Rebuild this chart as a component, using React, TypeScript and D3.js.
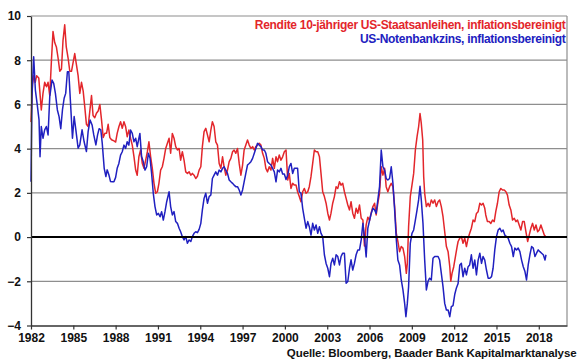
import { useRef, useEffect } from "react";
import * as d3 from "d3";

const yearTicks = [1982, 1985, 1988, 1991, 1994, 1997, 2000, 2003, 2006, 2009, 2012, 2015, 2018];
const valueTicks = [-4, -2, 0, 2, 4, 6, 8, 10];

const legendRendite = "Rendite 10-jähriger US-Staatsanleihen, inflationsbereinigt";
const legendNotenbank = "US-Notenbankzins, inflationsbereinigt";
const sourceLabel = "Quelle: Bloomberg, Baader Bank Kapitalmarktanalyse";

// [year, value] — real 10y treasury yield
const rendite: [number, number][] = [
  [1982.0, 5.2], [1982.1, 6.9], [1982.2, 7.3], [1982.3, 7.0], [1982.4, 7.3], [1982.55, 7.2],
  [1982.73, 5.75], [1982.85, 6.5], [1982.97, 7.0], [1983.1, 6.8], [1983.21, 7.0], [1983.33, 6.4],
  [1983.45, 8.0], [1983.56, 9.3], [1983.68, 8.8], [1983.8, 8.6], [1983.92, 8.1], [1984.04, 7.5],
  [1984.16, 7.6], [1984.27, 8.9], [1984.39, 9.6], [1984.5, 8.6], [1984.63, 8.1], [1984.75, 7.5],
  [1984.87, 7.5], [1985.1, 8.3], [1985.22, 7.8], [1985.34, 7.3], [1985.46, 6.5], [1985.58, 7.0],
  [1985.7, 6.6], [1985.81, 5.9], [1985.93, 5.1], [1986.05, 5.0], [1986.17, 5.7], [1986.29, 6.4],
  [1986.4, 5.5], [1986.52, 5.4], [1986.64, 5.6], [1986.76, 5.7], [1986.88, 6.0], [1987.0, 5.3],
  [1987.12, 4.5], [1987.24, 4.7], [1987.36, 4.7], [1987.47, 5.1], [1987.59, 4.5], [1987.71, 4.4],
  [1987.88, 4.35], [1988.0, 4.3], [1988.11, 4.69], [1988.23, 4.99], [1988.35, 5.22], [1988.47, 4.92],
  [1988.59, 5.22], [1988.71, 4.99], [1988.82, 4.54], [1988.94, 4.84], [1989.06, 4.47], [1989.18, 4.16],
  [1989.3, 3.64], [1989.42, 3.03], [1989.53, 2.8], [1989.65, 3.64], [1989.77, 3.94], [1989.89, 3.33],
  [1990.01, 3.11], [1990.13, 3.48], [1990.25, 3.86], [1990.36, 4.31], [1990.48, 3.64], [1990.6, 3.11],
  [1990.72, 2.43], [1990.84, 1.98], [1990.96, 2.05], [1991.07, 2.43], [1991.19, 3.03], [1991.31, 3.18],
  [1991.43, 3.56], [1991.55, 4.01], [1991.67, 4.24], [1991.79, 4.47], [1991.9, 3.79], [1992.02, 4.69],
  [1992.14, 4.47], [1992.26, 4.09], [1992.38, 3.94], [1992.5, 4.01], [1992.61, 3.48], [1992.73, 3.86],
  [1992.85, 3.48], [1992.97, 2.95], [1993.09, 2.88], [1993.21, 2.95], [1993.33, 2.8], [1993.44, 2.88],
  [1993.56, 2.8], [1993.68, 2.65], [1993.8, 2.75], [1993.92, 3.03], [1994.04, 3.18], [1994.15, 4.09],
  [1994.27, 4.77], [1994.39, 4.92], [1994.51, 4.62], [1994.63, 4.31], [1994.75, 4.84], [1994.86, 5.22],
  [1994.98, 5.0], [1995.1, 4.31], [1995.22, 4.16], [1995.34, 3.33], [1995.46, 3.11], [1995.58, 3.63],
  [1995.69, 3.18], [1995.81, 2.8], [1995.93, 3.03], [1996.05, 3.41], [1996.17, 3.56], [1996.29, 3.86],
  [1996.4, 3.94], [1996.52, 3.79], [1996.64, 4.01], [1996.76, 3.33], [1996.88, 2.8], [1997.0, 3.26],
  [1997.11, 3.94], [1997.23, 4.16], [1997.35, 4.39], [1997.47, 4.16], [1997.59, 4.01], [1997.71, 4.09],
  [1997.83, 3.94], [1997.94, 4.09], [1998.06, 4.16], [1998.18, 4.24], [1998.3, 4.16], [1998.42, 3.79],
  [1998.54, 3.56], [1998.65, 3.11], [1998.77, 2.95], [1998.89, 3.18], [1999.01, 3.03], [1999.13, 3.56],
  [1999.25, 3.11], [1999.37, 3.63], [1999.48, 3.41], [1999.6, 3.71], [1999.72, 3.48], [1999.84, 3.63],
  [1999.96, 3.86], [2000.08, 3.94], [2000.2, 2.58], [2000.31, 2.88], [2000.43, 2.2], [2000.55, 2.43],
  [2000.67, 2.35], [2000.79, 2.35], [2000.9, 2.05], [2001.02, 1.83], [2001.14, 1.6], [2001.26, 2.05],
  [2001.38, 2.2], [2001.5, 1.98], [2001.62, 2.05], [2001.73, 2.28], [2001.85, 2.73], [2001.97, 3.33],
  [2002.09, 3.94], [2002.21, 3.86], [2002.33, 3.86], [2002.45, 3.63], [2002.56, 2.88], [2002.68, 2.05],
  [2002.8, 1.83], [2002.92, 1.53], [2003.04, 1.08], [2003.16, 0.77], [2003.27, 1.08], [2003.39, 1.53],
  [2003.51, 1.83], [2003.63, 2.28], [2003.75, 2.2], [2003.87, 2.5], [2003.98, 2.35], [2004.1, 2.43],
  [2004.22, 2.05], [2004.34, 1.75], [2004.46, 1.45], [2004.58, 1.23], [2004.69, 1.6], [2004.81, 1.08],
  [2004.93, 0.85], [2005.05, 1.3], [2005.17, 1.08], [2005.29, 1.45], [2005.41, 0.85], [2005.53, 0.77],
  [2005.64, -0.4], [2005.76, 0.55], [2005.88, 0.9], [2006.0, 0.75], [2006.12, 1.1], [2006.24, 1.38],
  [2006.36, 1.53], [2006.47, 1.0], [2006.59, 1.53], [2006.71, 1.98], [2006.83, 3.18], [2006.95, 2.8],
  [2007.07, 3.11], [2007.18, 2.28], [2007.3, 2.05], [2007.42, 2.28], [2007.54, 2.43], [2007.66, 2.28],
  [2007.78, 1.38], [2007.9, 0.17], [2008.01, -0.2], [2008.13, -0.66], [2008.25, -0.43], [2008.37, -0.5],
  [2008.49, -0.88], [2008.61, -1.64], [2008.68, -1.19], [2008.77, 0.47], [2008.89, 1.83], [2009.01, 2.35],
  [2009.13, 2.88], [2009.25, 3.94], [2009.37, 4.54], [2009.48, 4.99], [2009.58, 5.59], [2009.67, 5.14],
  [2009.77, 4.39], [2009.84, 2.73], [2009.91, 1.98], [2010.03, 1.38], [2010.15, 1.53], [2010.26, 1.38],
  [2010.38, 1.68], [2010.5, 1.53], [2010.62, 1.68], [2010.74, 1.38], [2010.86, 1.6], [2010.97, 1.68],
  [2011.09, 1.38], [2011.21, 0.92], [2011.33, 0.24], [2011.45, -0.43], [2011.57, -0.66], [2011.69, -1.34],
  [2011.76, -2.0], [2011.85, -1.64], [2011.97, -1.34], [2012.09, -0.88], [2012.21, -0.43], [2012.28, -0.2],
  [2012.4, -0.05], [2012.51, 0.02], [2012.63, -0.28], [2012.75, -0.05], [2012.87, -0.43], [2012.99, -0.05],
  [2013.1, 0.17], [2013.22, 0.4], [2013.34, 0.77], [2013.46, 0.7], [2013.58, 1.07], [2013.7, 1.15],
  [2013.82, 1.53], [2013.94, 1.45], [2014.05, 1.53], [2014.17, 1.3], [2014.24, 1.0], [2014.36, 0.7],
  [2014.48, 0.7], [2014.6, 0.62], [2014.72, 0.77], [2014.84, 0.7], [2014.95, 1.15], [2015.07, 1.53],
  [2015.19, 2.05], [2015.31, 2.2], [2015.43, 2.13], [2015.55, 2.13], [2015.67, 2.05], [2015.78, 1.9],
  [2015.9, 1.45], [2016.02, 1.23], [2016.14, 0.77], [2016.26, 0.85], [2016.38, 0.7], [2016.49, 0.77],
  [2016.61, 0.55], [2016.73, 0.32], [2016.85, 0.7], [2016.97, 0.7], [2017.09, 0.24], [2017.21, -0.2],
  [2017.32, 0.09], [2017.44, 0.4], [2017.56, 0.62], [2017.68, 0.32], [2017.8, 0.55], [2017.92, 0.24],
  [2018.03, 0.32], [2018.15, 0.55], [2018.27, 0.32], [2018.39, 0.09], [2018.51, 0.0],
];

// [year, value] — real fed funds rate
const notenbank: [number, number][] = [
  [1982.0, 2.5], [1982.07, 6.35], [1982.19, 8.16], [1982.31, 6.65], [1982.43, 6.05], [1982.57, 5.3],
  [1982.64, 3.63], [1982.73, 5.0], [1982.85, 4.47], [1982.97, 4.85], [1983.09, 5.0], [1983.21, 4.62],
  [1983.33, 6.35], [1983.49, 7.1], [1983.61, 6.95], [1983.73, 6.5], [1983.87, 5.75], [1983.99, 5.45],
  [1984.11, 4.9], [1984.23, 5.75], [1984.35, 6.28], [1984.46, 6.5], [1984.58, 7.48], [1984.68, 7.48],
  [1984.94, 4.47], [1985.06, 5.45], [1985.18, 4.85], [1985.34, 4.02], [1985.46, 4.17], [1985.62, 4.85],
  [1985.77, 4.3], [1985.93, 3.87], [1986.05, 4.77], [1986.19, 5.3], [1986.33, 5.07], [1986.45, 4.62],
  [1986.6, 4.17], [1986.72, 4.62], [1986.83, 4.9], [1986.95, 4.85], [1987.05, 4.25], [1987.19, 3.11],
  [1987.31, 2.74], [1987.4, 3.04], [1987.52, 2.82], [1987.64, 2.51], [1987.76, 2.5], [1987.88, 2.5],
  [1988.0, 2.7], [1988.11, 3.11], [1988.23, 3.33], [1988.35, 3.71], [1988.47, 3.86], [1988.59, 4.16],
  [1988.71, 4.01], [1988.82, 4.31], [1988.94, 4.16], [1989.06, 4.84], [1989.18, 4.69], [1989.3, 4.31],
  [1989.42, 4.47], [1989.53, 4.09], [1989.65, 4.47], [1989.72, 4.69], [1989.84, 3.64], [1989.96, 3.41],
  [1990.08, 3.03], [1990.2, 3.18], [1990.32, 3.79], [1990.44, 3.56], [1990.55, 2.88], [1990.67, 1.98],
  [1990.79, 1.38], [1990.91, 1.0], [1991.03, 1.07], [1991.15, 0.92], [1991.26, 1.15], [1991.38, 0.77],
  [1991.5, 1.15], [1991.62, 1.6], [1991.79, 2.05], [1991.9, 1.38], [1992.02, 1.0], [1992.14, 1.15],
  [1992.26, 0.7], [1992.38, 0.62], [1992.5, 0.4], [1992.61, 0.24], [1992.73, 0.02], [1992.85, -0.13],
  [1992.97, 0.02], [1993.09, -0.28], [1993.21, -0.13], [1993.33, -0.2], [1993.44, 0.02], [1993.56, 0.17],
  [1993.68, 0.24], [1993.8, 0.2], [1993.92, 0.35], [1994.04, 0.62], [1994.15, 1.23], [1994.27, 1.75],
  [1994.39, 1.98], [1994.51, 1.53], [1994.63, 1.83], [1994.75, 1.9], [1994.86, 2.65], [1994.98, 2.8],
  [1995.1, 2.95], [1995.22, 2.8], [1995.34, 3.03], [1995.46, 2.95], [1995.58, 3.11], [1995.69, 3.18],
  [1995.81, 3.03], [1995.93, 2.88], [1996.05, 2.58], [1996.17, 2.5], [1996.29, 2.43], [1996.4, 2.35],
  [1996.52, 2.28], [1996.64, 2.28], [1996.76, 2.13], [1996.88, 1.9], [1997.0, 2.13], [1997.11, 2.5],
  [1997.23, 2.88], [1997.35, 3.26], [1997.47, 3.33], [1997.59, 3.41], [1997.71, 3.56], [1997.83, 3.79],
  [1997.94, 4.01], [1998.06, 4.24], [1998.18, 4.16], [1998.3, 4.09], [1998.42, 3.94], [1998.54, 3.94],
  [1998.65, 3.79], [1998.77, 3.41], [1998.89, 3.33], [1999.01, 3.26], [1999.13, 3.11], [1999.25, 2.95],
  [1999.37, 2.5], [1999.48, 3.03], [1999.6, 2.95], [1999.72, 3.11], [1999.84, 2.85], [1999.96, 2.85],
  [2000.08, 2.6], [2000.2, 2.8], [2000.31, 3.18], [2000.43, 3.33], [2000.55, 2.88], [2000.67, 3.11],
  [2000.79, 3.11], [2000.9, 3.11], [2001.02, 2.05], [2001.14, 1.98], [2001.26, 1.3], [2001.38, 0.85],
  [2001.5, 0.4], [2001.62, 0.7], [2001.73, 0.47], [2001.85, 0.09], [2001.97, 0.62], [2002.09, 0.32],
  [2002.21, 0.55], [2002.33, 0.17], [2002.45, 0.47], [2002.56, 0.17], [2002.68, 0.02], [2002.8, -0.8],
  [2002.92, -1.19], [2003.04, -1.41], [2003.16, -1.79], [2003.27, -1.19], [2003.39, -0.96], [2003.51, -1.26],
  [2003.63, -0.8], [2003.75, -0.88], [2003.87, -1.26], [2003.98, -0.88], [2004.1, -0.73], [2004.22, -0.73],
  [2004.34, -2.09], [2004.46, -2.01], [2004.58, -1.41], [2004.69, -1.03], [2004.81, -1.49], [2004.93, -1.19],
  [2005.05, -0.8], [2005.17, -0.58], [2005.29, -0.58], [2005.41, -0.13], [2005.53, 0.62], [2005.64, 0.02],
  [2005.76, -0.9], [2005.88, 0.4], [2006.0, 0.75], [2006.12, 1.07], [2006.24, 1.3], [2006.36, 1.23],
  [2006.47, 1.07], [2006.59, 1.68], [2006.71, 2.28], [2006.83, 3.94], [2006.95, 3.18], [2007.07, 3.03],
  [2007.18, 2.65], [2007.3, 2.58], [2007.42, 2.65], [2007.54, 3.18], [2007.66, 2.43], [2007.78, 1.23],
  [2007.9, -0.13], [2008.01, -1.04], [2008.13, -1.26], [2008.25, -1.94], [2008.37, -2.39], [2008.49, -3.0],
  [2008.58, -3.6], [2008.68, -3.0], [2008.77, -2.24], [2008.89, -0.28], [2009.01, 0.17], [2009.13, 0.32],
  [2009.25, 0.77], [2009.37, 1.23], [2009.48, 1.68], [2009.58, 2.3], [2009.67, 1.68], [2009.79, 0.62],
  [2009.91, -1.04], [2010.03, -2.39], [2010.15, -2.0], [2010.26, -1.86], [2010.38, -1.94], [2010.5, -0.96],
  [2010.62, -0.88], [2010.74, -0.88], [2010.86, -0.88], [2010.97, -1.04], [2011.09, -1.64], [2011.21, -2.24],
  [2011.33, -3.0], [2011.45, -3.3], [2011.57, -3.3], [2011.69, -3.6], [2011.8, -3.15], [2011.92, -3.1],
  [2012.04, -2.6], [2012.16, -2.3], [2012.28, -2.1], [2012.4, -1.26], [2012.51, -1.19], [2012.63, -1.79],
  [2012.75, -1.41], [2012.87, -1.71], [2012.99, -1.34], [2013.1, -1.26], [2013.22, -0.8], [2013.34, -1.41],
  [2013.46, -1.04], [2013.58, -1.71], [2013.7, -1.04], [2013.82, -0.73], [2013.94, -1.19], [2014.05, -0.88],
  [2014.17, -1.04], [2014.29, -1.49], [2014.41, -1.86], [2014.53, -1.86], [2014.65, -1.79], [2014.76, -1.41],
  [2014.88, -0.58], [2015.0, 0.02], [2015.12, 0.32], [2015.24, 0.4], [2015.36, 0.24], [2015.47, 0.32],
  [2015.59, 0.09], [2015.71, 0.02], [2015.83, -0.05], [2015.95, -0.28], [2016.07, -0.43], [2016.19, -0.88],
  [2016.3, -0.5], [2016.42, -0.58], [2016.54, -0.5], [2016.66, -0.66], [2016.78, -1.04], [2016.9, -1.34],
  [2017.02, -1.56], [2017.13, -1.94], [2017.25, -1.26], [2017.37, -0.8], [2017.49, -0.43], [2017.61, -0.5],
  [2017.73, -0.88], [2017.84, -0.73], [2017.96, -0.58], [2018.08, -0.66], [2018.2, -0.73], [2018.32, -0.8],
  [2018.44, -1.04], [2018.51, -0.8],
];

const RED = "#e3262b";
const BLUE = "#2020c0";
const FONT = "'Liberation Sans', Arial, sans-serif";

const App = () => {
  const chartRef = useRef<SVGSVGElement>(null);

  useEffect(() => {
    const svg = d3.select(chartRef.current);
    svg.selectAll("*").remove();

    const left = 31;
    const right = 567;
    const top = 16;
    const bottom = 325.5;

    const x = d3.scaleLinear().domain([1982, 2020]).range([left, right]);
    const y = d3.scaleLinear().domain([-4, 10]).range([bottom, top]);

    // grid
    svg
      .append("g")
      .selectAll("line")
      .data(valueTicks.filter(v => v !== 0 && v !== -4))
      .enter()
      .append("line")
      .attr("x1", left)
      .attr("x2", right)
      .attr("y1", d => y(d))
      .attr("y2", d => y(d))
      .attr("stroke", "#8e8e8e")
      .attr("stroke-width", 1.2);

    // right border
    svg
      .append("line")
      .attr("x1", right)
      .attr("x2", right)
      .attr("y1", top)
      .attr("y2", bottom)
      .attr("stroke", "#8e8e8e")
      .attr("stroke-width", 1.2);

    const line = d3
      .line<[number, number]>()
      .x(d => x(d[0]))
      .y(d => y(d[1]));

    svg
      .append("path")
      .datum(rendite)
      .attr("fill", "none")
      .attr("stroke", RED)
      .attr("stroke-width", 1.5)
      .attr("stroke-linejoin", "round")
      .attr("d", line);

    svg
      .append("path")
      .datum(notenbank)
      .attr("fill", "none")
      .attr("stroke", BLUE)
      .attr("stroke-width", 1.5)
      .attr("stroke-linejoin", "round")
      .attr("d", line);

    // zero line
    svg
      .append("line")
      .attr("x1", left)
      .attr("x2", right)
      .attr("y1", y(0))
      .attr("y2", y(0))
      .attr("stroke", "#000")
      .attr("stroke-width", 2);

    const yAxis = svg
      .append("g")
      .attr("transform", `translate(${left},0)`)
      .call(d3.axisLeft(y).tickValues(valueTicks).tickSizeInner(4).tickSizeOuter(0).tickPadding(6).tickFormat(d3.format("d")));

    const xAxis = svg
      .append("g")
      .attr("transform", `translate(0,${bottom})`)
      .call(d3.axisBottom(x).tickValues(yearTicks).tickSizeInner(4).tickSizeOuter(0).tickPadding(4).tickFormat(d3.format("d")));

    [yAxis, xAxis].forEach(g => {
      g.select(".domain").attr("stroke", "#333").attr("stroke-width", 1.3);
      g.selectAll(".tick line").attr("stroke", "#333").attr("stroke-width", 1.2);
      g.selectAll("text")
        .attr("fill", "#111")
        .style("font-family", FONT)
        .style("font-weight", "bold")
        .style("font-size", "12px");
    });

    const legend = svg
      .append("g")
      .style("font-family", FONT)
      .style("font-weight", "bold")
      .style("font-size", "12px")
      .attr("text-anchor", "end");

    legend
      .append("text")
      .attr("x", 565.5)
      .attr("y", 29)
      .attr("fill", RED)
      .attr("letter-spacing", -0.3)
      .text(legendRendite);

    legend
      .append("text")
      .attr("x", 565.5)
      .attr("y", 43)
      .attr("fill", BLUE)
      .attr("letter-spacing", -0.3)
      .text(legendNotenbank);

    svg
      .append("text")
      .attr("x", 576.5)
      .attr("y", 356.5)
      .attr("text-anchor", "end")
      .attr("fill", "#111")
      .attr("letter-spacing", -0.1)
      .style("font-family", FONT)
      .style("font-weight", "bold")
      .style("font-size", "11.5px")
      .text(sourceLabel);
  }, []);

  return (
    <svg
      ref={chartRef}
      width={580}
      height={359}
      style={{ position: "absolute", left: 0, top: 0, background: "#fff" }}
    />
  );
};

export default App;
